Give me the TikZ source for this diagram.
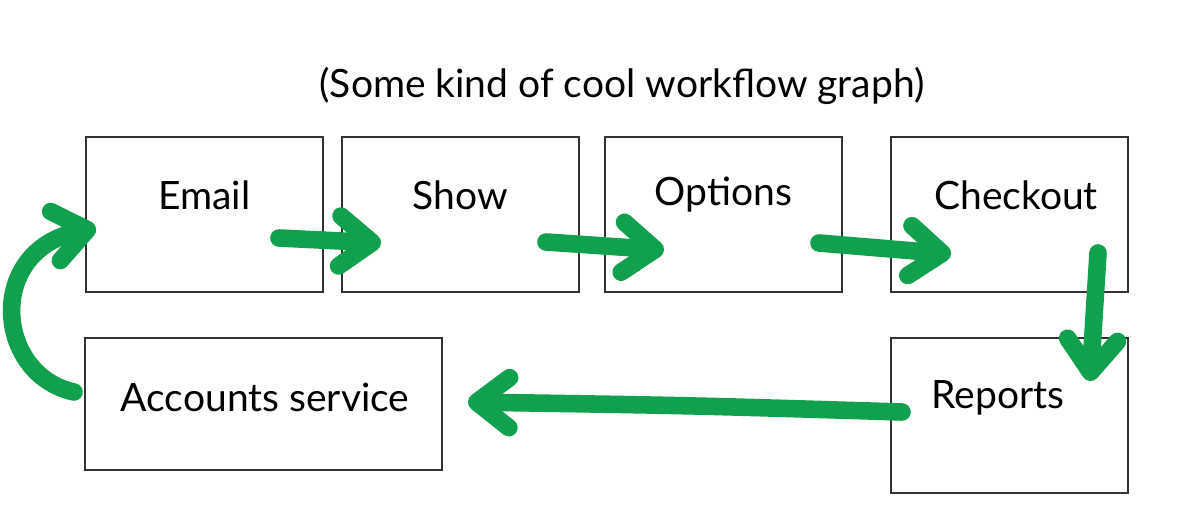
\documentclass[tikz,border=0pt]{standalone}
\usepackage{fontspec}
\setmainfont{Lato}
\usepackage{tikz}
\usetikzlibrary{arrows.meta,calc}
\definecolor{flowG}{RGB}{17,160,77}
\definecolor{edgeK}{RGB}{51,51,51}

\begin{document}
\begin{tikzpicture}[font=\fontsize{22.2}{26}\selectfont,
  box/.style={rectangle, draw=edgeK, line width=1.1pt, minimum width=4.74cm, minimum height=3.1cm},
  txt/.style={inner sep=0pt},
  flow/.style={draw=flowG, line width=10pt, line cap=round, line join=round,
               -{Straight Barb[length=6.5mm, width=10mm, round]}}]
  \useasboundingbox (0,0) rectangle (23.78,-10.6);
  \node[txt] (title) at (12.44,-1.72) {(Some kind of cool workflow graph)};
  \node[box] (email) at (4.09,-4.29) {};
  \node[box] (show) at (9.21,-4.29) {};
  \node[box] (options) at (14.47,-4.29) {};
  \node[box] (checkout) at (20.19,-4.29) {};
  \node[box, minimum width=7.14cm, minimum height=2.64cm] (accounts) at (5.27,-8.08) {};
  \node[box] (reports) at (20.19,-8.31) {};
  \node[txt] (emailT) at ($(email)+(0,0.39)$) {Email};
  \node[txt] (showT) at ($(show)+(0,0.39)$) {Show};
  \node[txt] (optionsT) at ($(options)+(0,0.39)$) {Options};
  \node[txt] (checkoutT) at ($(checkout)+(0.13,0.39)$) {Checkout};
  \node[txt] (accountsT) at ($(accounts)+(0.03,0.14)$) {Accounts service};
  \node[txt] (reportsT) at ($(reports)+(-0.23,0.35)$) {Reports};
  \draw[flow] ($(email.east)+(-0.9,-0.47)$) -- ($(show.west)+(0.8,-0.57)$);
  \draw[flow] ($(show.east)+(-0.68,-0.55)$) -- ($(options.west)+(1.2,-0.71)$);
  \draw[flow] ($(options.east)+(-0.48,-0.57)$) -- ($(checkout.west)+(1.22,-0.79)$);
  \draw[flow] ($(checkout.south)+(1.77,0.8)$) -- ($(reports.north)+(1.61,-0.88)$);
  \draw[flow] ($(reports.west)+(0.24,0.07)$) .. controls ($(reports.west)+(-4,0.2)$) .. ($(accounts.east)+(0.5,0.04)$);
  \draw[flow] ($(accounts.west)+(-0.2,0.24)$) .. controls (-0.1,-7.5) and (-0.3,-5.0) .. ($(email.west)+(0.22,-0.27)$);
\end{tikzpicture}
\end{document}
